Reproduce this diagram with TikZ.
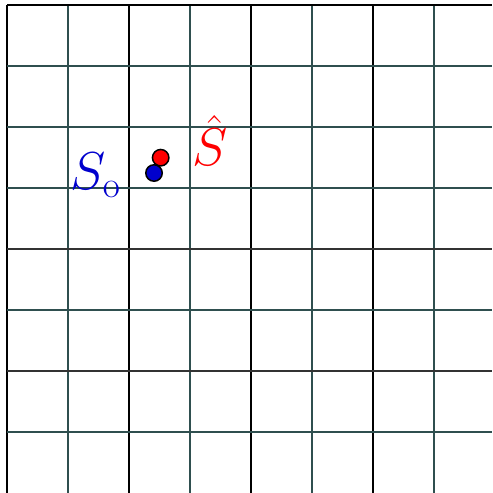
\documentclass[tikz,border=0pt]{standalone}
\usetikzlibrary{positioning}
\definecolor{gridslate}{RGB}{47,79,79}
\definecolor{deepblue}{RGB}{0,0,205}
\begin{document}
\begin{tikzpicture}[
    minor/.style={gridslate, line width=0.9pt},
    major/.style={black, line width=0.9pt},
    dot/.style={circle, draw=black, line width=0.7pt, minimum size=0.27cm, inner sep=0pt},
    lbl/.style={font=\fontsize{27}{32}\selectfont, inner sep=0pt},
]
\useasboundingbox (0,0) rectangle (8.066,-8.082);

% Grid - vertical lines
\foreach \i in {1,3,5,7}
    \draw[minor] ({0.115+\i},-0.082) -- ({0.115+\i},-8.082);
\foreach \i in {0,2,4,6}
    \draw[major] ({0.115+\i},-0.082) -- ({0.115+\i},-8.082);
% Grid - horizontal lines
\foreach \i in {1,2,3,5,7}
    \draw[minor] (0.115,{-0.082-\i}) -- (8.066,{-0.082-\i});
\foreach \i in {0,4,6}
    \draw[major, black!80] (0.115,{-0.082-\i}) -- (8.066,{-0.082-\i});
\draw[major] (0.115,-0.082) -- (8.066,-0.082);

% Points
\node[dot, fill=red] (shat) at (2.634,-2.585) {};
\node[dot, fill=deepblue] (so) at (2.525,-2.836) {};

% Labels
\node[lbl, text=deepblue] (solabel) at (1.57,-2.87) {$S_\mathrm{o}$};
\node[lbl, text=red] (shatlabel) at (3.45,-2.30) {$\hat{S}$};

\end{tikzpicture}
\end{document}
